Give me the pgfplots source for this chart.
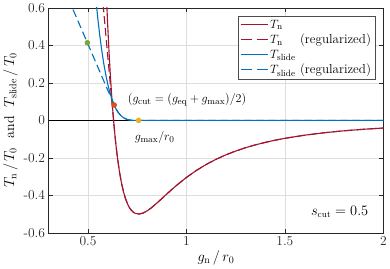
\documentclass[border=0pt]{standalone}
\usepackage{pgfplots}
\pgfplotsset{compat=1.18}
\definecolor{mred}{rgb}{0.635,0.078,0.184}
\definecolor{mblue}{rgb}{0,0.447,0.741}
\definecolor{morange}{rgb}{0.85,0.325,0.098}
\definecolor{myellow}{rgb}{0.929,0.694,0.125}
\definecolor{mgreen}{rgb}{0.466,0.674,0.188}
\definecolor{maxc}{rgb}{0.15,0.15,0.15}
\begin{document}
\begin{tikzpicture}
\begin{axis}[
  scale only axis, width=333.5pt, height=224pt,
  xmin=0.3, xmax=2, ymin=-0.6, ymax=0.6,
  xtick={0.5,1,1.5,2}, xticklabels={0.5,1,1.5,2},
  ytick={-0.6,-0.4,-0.2,0,0.2,0.4,0.6},
  yticklabels={\mbox{-0.6},\mbox{-0.4},\mbox{-0.2},0,0.2,0.4,0.6},
  tick label style={font=\fontsize{13.5}{15}\selectfont, text=maxc},
  label style={font=\fontsize{14}{16}\selectfont},
  xlabel={$g_\mathrm{n}\,/\,r_0$},
  ylabel={$T_\mathrm{n}\,/\,T_0$ \ and \ $T_\mathrm{slide}\,/\,T_0$},
  xlabel style={yshift=2pt},
  ylabel style={yshift=-1pt},
  grid=major, major grid style={draw=black!13, line width=0.5pt},
  axis line style={draw=maxc, line width=0.6pt},
  tick style={draw=maxc, line width=0.6pt},
  major tick length=4pt,
  tick align=inside,
  clip=true,
  legend style={at={(1,1)}, anchor=north east, xshift=-8pt, yshift=-8pt,
    draw=black!70, line width=0.6pt, font=\fontsize{13}{15}\selectfont,
    inner xsep=2pt, inner ysep=1.5pt, row sep=0.5pt, cells={anchor=west}},
  legend image code/.code={\draw[#1] (0cm,0cm) -- (0.95cm,0cm);},
  every axis plot/.append style={line width=1.1pt},
]
\addlegendimage{draw=mred, line width=1.1pt}
\addlegendentry{$T_\mathrm{n}$}
\addlegendimage{draw=mred, line width=1.1pt, dash pattern=on 11pt off 5pt}
\addlegendentry{\rlap{$T_\mathrm{n}$}\phantom{$T_\mathrm{slide}$} (regularized)}
\addlegendimage{draw=mblue, line width=1.1pt}
\addlegendentry{$T_\mathrm{slide}$}
\addlegendimage{draw=mblue, line width=1.1pt, dash pattern=on 11pt off 5pt}
\addlegendentry{$T_\mathrm{slide}$ (regularized)}
\addplot[black, line width=0.8pt, forget plot] coordinates {(0.3,0) (2,0)};
\addplot[draw=mred, forget plot] coordinates {
(0.59,0.763) (0.595,0.6305) (0.60,0.5114) (0.605,0.4034) (0.61,0.3057) (0.615,0.2172) (0.62,0.1373) (0.625,0.0651) (0.63,0) (0.635,-0.0587)
(0.64,-0.1117) (0.645,-0.1594) (0.65,-0.2022) (0.66,-0.2752) (0.67,-0.3335) (0.68,-0.3797) (0.69,-0.4159) (0.70,-0.4437) (0.71,-0.4646)
(0.72,-0.4797) (0.73,-0.4900) (0.74,-0.4964) (0.76,-0.4998) (0.78,-0.4945) (0.80,-0.4831) (0.82,-0.4680)
(0.85,-0.4412) (0.875,-0.4173) (0.90,-0.3931) (0.925,-0.3694) (0.95,-0.3466) (1.0,-0.3045) (1.05,-0.2675) (1.1,-0.2354) (1.15,-0.2078)
(1.2,-0.1840) (1.25,-0.1636) (1.3,-0.1459) (1.35,-0.1307) (1.4,-0.1174) (1.45,-0.1058) (1.5,-0.0957) (1.6,-0.0790)
(1.7,-0.0659) (1.75,-0.0605) (1.8,-0.0556) (1.9,-0.0473) (2.0,-0.0406)};
\addplot[draw=mred, dash pattern=on 8pt off 4pt, forget plot] coordinates {
(0.56,0.8128) (0.633,-0.036) (0.64,-0.1117) (0.645,-0.1594) (0.65,-0.2022) (0.66,-0.2752) (0.67,-0.3335) (0.68,-0.3797) (0.69,-0.4159) (0.70,-0.4437) (0.71,-0.4646)
(0.72,-0.4797) (0.73,-0.4900) (0.74,-0.4964) (0.76,-0.4998) (0.78,-0.4945) (0.80,-0.4831) (0.82,-0.4680)
(0.85,-0.4412) (0.875,-0.4173) (0.90,-0.3931) (0.925,-0.3694) (0.95,-0.3466) (1.0,-0.3045) (1.05,-0.2675) (1.1,-0.2354) (1.15,-0.2078)
(1.2,-0.1840) (1.25,-0.1636) (1.3,-0.1459) (1.35,-0.1307) (1.4,-0.1174) (1.45,-0.1058) (1.5,-0.0957) (1.6,-0.0790)
(1.7,-0.0659) (1.75,-0.0605) (1.8,-0.0556) (1.9,-0.0473) (2.0,-0.0406)};
\addplot[draw=mblue, forget plot] coordinates {
(0.54,0.647) (0.55,0.543) (0.56,0.452) (0.57,0.373) (0.58,0.304) (0.59,0.246)
(0.60,0.195) (0.61,0.153) (0.62,0.118) (0.633,0.082) (0.64,0.0663) (0.65,0.0478)
(0.66,0.0334) (0.67,0.0225) (0.68,0.0144) (0.69,0.0087) (0.70,0.0049)
(0.71,0.0025) (0.72,0.0011) (0.73,0.0003) (0.74,0.0001) (0.76,0) (2.0,0)};
\addplot[draw=mblue, dash pattern=on 8pt off 4pt, forget plot] coordinates {
(0.40,0.6505) (0.633,0.082) (0.64,0.0663) (0.65,0.0478)
(0.66,0.0334) (0.67,0.0225) (0.68,0.0144) (0.69,0.0087) (0.70,0.0049)
(0.71,0.0025) (0.72,0.0011) (0.73,0.0003) (0.74,0.0001) (0.76,0) (2.0,0)};
\addplot[only marks, mark=*, mark size=2.2pt, draw=mgreen, fill=mgreen, forget plot] coordinates {(0.497,0.4145)};
\addplot[only marks, mark=*, mark size=2.2pt, draw=morange, fill=morange, forget plot] coordinates {(0.633,0.082)};
\addplot[only marks, mark=*, mark size=2.2pt, draw=myellow, fill=myellow, forget plot] coordinates {(0.757,0)};
\node[anchor=west, font=\fontsize{13}{15}\selectfont] at (axis cs:0.685,0.11) {$(g_\mathrm{cut}=(g_\mathrm{eq}+g_\mathrm{max})/2)$};
\node[anchor=west, font=\fontsize{13}{15}\selectfont] at (axis cs:0.72,-0.09) {$g_\mathrm{max}/r_0$};
\node[anchor=west, font=\fontsize{13.5}{15}\selectfont] at (axis cs:1.615,-0.49) {$s_\mathrm{cut}=0.5$};
\end{axis}
\end{tikzpicture}
\end{document}
